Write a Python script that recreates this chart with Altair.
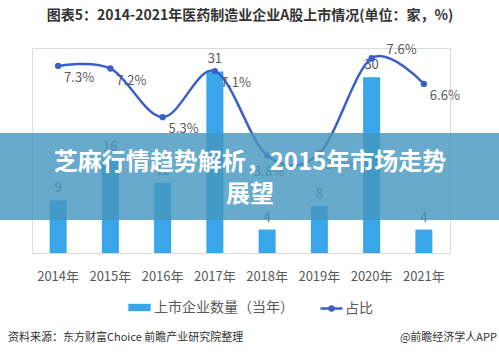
import altair as alt
import pandas as pd

years = ["2014年", "2015年", "2016年", "2017年", "2018年", "2019年", "2020年", "2021年"]
counts = [9, 16, 12, 31, 4, 8, 30, 4]
shares = [7.3, 7.2, 5.3, 7.1, 3.8, 3.9, 7.6, 6.6]
share_labels = ["7.3%", "7.2%", "5.3%", "7.1%", "3.8%", "3.9%", "7.6%", "6.6%"]
bar_name = "上市企业数量（当年）"
line_name = "占比"
title_text = "图表5：2014-2021年医药制造业企业A股上市情况(单位：家，%)"
source_text = "资料来源：东方财富Choice 前瞻产业研究院整理"
credit_text = "@前瞻经济学人APP"
banner_line1 = "芝麻行情趋势解析，2015年市场走势"
banner_line2 = "展望"

df = pd.DataFrame({
    "year": years, "count": counts, "share": [s / 100 for s in shares],
    "label": share_labels, "bar": bar_name, "line": line_name,
})

FONT = "Noto Sans CJK SC"
BAR = "#3AA6EA"
LINE = "#3A5FC8"
GRAY = "#595959"

x = alt.X("year:N", sort=years, title=None,
          scale=alt.Scale(paddingInner=0.0, paddingOuter=0.0),
          axis=alt.Axis(labelAngle=0, labelFont=FONT, labelFontSize=13, labelColor=GRAY,
                        ticks=False, domainColor="#D9D9D9", domainWidth=1.2, labelPadding=17))

base = alt.Chart(df)

bars = base.mark_bar(size=17, color=BAR).encode(
    x=x,
    y=alt.Y("count:Q", scale=alt.Scale(domain=[0, 35]), title=None,
            axis=alt.Axis(values=[0, 5, 10, 15, 20, 25, 30, 35], grid=False, domain=False, ticks=False,
                          labelFont=FONT, labelFontSize=13, labelColor=GRAY, labelPadding=4)),
    color=alt.Color("bar:N", scale=alt.Scale(range=[BAR]), title=None,
                    legend=alt.Legend(orient="none", legendX=96, legendY=248, padding=0,
                                      symbolType="M-1,-0.33L1,-0.33L1,0.33L-1,0.33Z", symbolSize=500,
                                      symbolStrokeWidth=0, symbolOpacity=1,
                                      labelFont=FONT, labelFontSize=14, labelColor=GRAY, labelOffset=3)),
)
bar_text = base.mark_text(font=FONT, fontSize=13, color=GRAY, dy=-12).encode(
    x=x, y=alt.Y("count:Q", scale=alt.Scale(domain=[0, 35]), axis=None), text="count:Q")

left = alt.layer(bars, bar_text)

yR = alt.Y("share:Q", scale=alt.Scale(domain=[0, 0.08]), title=None,
           axis=alt.Axis(orient="right", format=".1%", values=[0, .01, .02, .03, .04, .05, .06, .07, .08],
                         grid=False, domain=False, ticks=False, labelFont=FONT, labelFontSize=13,
                         labelColor=GRAY, labelPadding=13))
yR2 = alt.Y("share:Q", scale=alt.Scale(domain=[0, 0.08]), axis=None)

line = base.mark_line(interpolate="cardinal", strokeWidth=2.5).encode(
    x=x, y=yR,
    stroke=alt.Stroke("line:N", scale=alt.Scale(range=[LINE]), title=None,
                      legend=alt.Legend(orient="none", legendX=287, legendY=248, padding=0,
                                        symbolType="M-1,0L1,0M-0.18,0A0.18,0.18 0 1,0 0.18,0A0.18,0.18 0 1,0 -0.18,0",
                                        symbolSize=484, symbolStrokeWidth=2.5, symbolFillColor=LINE,
                                        labelFont=FONT, labelFontSize=14, labelColor=GRAY, labelOffset=1)),
)
pts = base.mark_circle(size=40, color=LINE, opacity=1).encode(x=x, y=yR2)
lab_gen = base.transform_filter(
    "datum.year != '2020年' && datum.year != '2018年'").mark_text(
    font=FONT, fontSize=13, color=GRAY, dx=21, dy=12).encode(x=x, y=yR2, text="label:N")
lab_2020 = base.transform_filter("datum.year == '2020年'").mark_text(
    font=FONT, fontSize=13, color=GRAY, dx=30, dy=-8).encode(x=x, y=yR2, text="label:N")
lab_2018 = base.transform_filter("datum.year == '2018年'").mark_text(
    font=FONT, fontSize=13, color=GRAY, dx=2, dy=16).encode(x=x, y=yR2, text="label:N")

right = alt.layer(line, pts, lab_gen, lab_2020, lab_2018)

one = pd.DataFrame({"k": [0]})
banner_rect = alt.Chart(one).mark_rect(fill="#4597C0", opacity=0.82).encode(
    x=alt.value(-32), x2=alt.value(467), y=alt.value(85), y2=alt.value(172))
banner_txt1 = alt.Chart(one).mark_text(
    font=FONT, fontSize=24, fontWeight="bold", color="white", align="center", baseline="middle").encode(
    x=alt.value(218), y=alt.value(115), text=alt.value(banner_line1))
banner_txt2 = alt.Chart(one).mark_text(
    font=FONT, fontSize=24, fontWeight="bold", color="white", align="center", baseline="middle").encode(
    x=alt.value(218), y=alt.value(147), text=alt.value(banner_line2))

title = alt.Chart(one).mark_text(font=FONT, fontSize=14, fontWeight="bold", color="#333333",
                                 align="center", baseline="middle").encode(
    x=alt.value(218), y=alt.value(-32), text=alt.value(title_text))
src = alt.Chart(one).mark_text(font=FONT, fontSize=11, color="#333333", align="left",
                               baseline="middle").encode(
    x=alt.value(-24), y=alt.value(290), text=alt.value(source_text))
cred = alt.Chart(one).mark_text(font=FONT, fontSize=11, color="#333333", align="right",
                                baseline="middle").encode(
    x=alt.value(465), y=alt.value(290), text=alt.value(credit_text))

chart = alt.layer(left, right, banner_rect, banner_txt1, banner_txt2, title, src, cred).resolve_scale(
    y="independent").properties(
    width=418, height=205, autosize=alt.AutoSizeParams(type="none"),
    padding={"left": 32, "top": 48, "right": 49, "bottom": 103},
).configure_view(stroke=None).configure(background="white")

chart.save("out.html", embed_options={"renderer": "svg", "actions": False})
